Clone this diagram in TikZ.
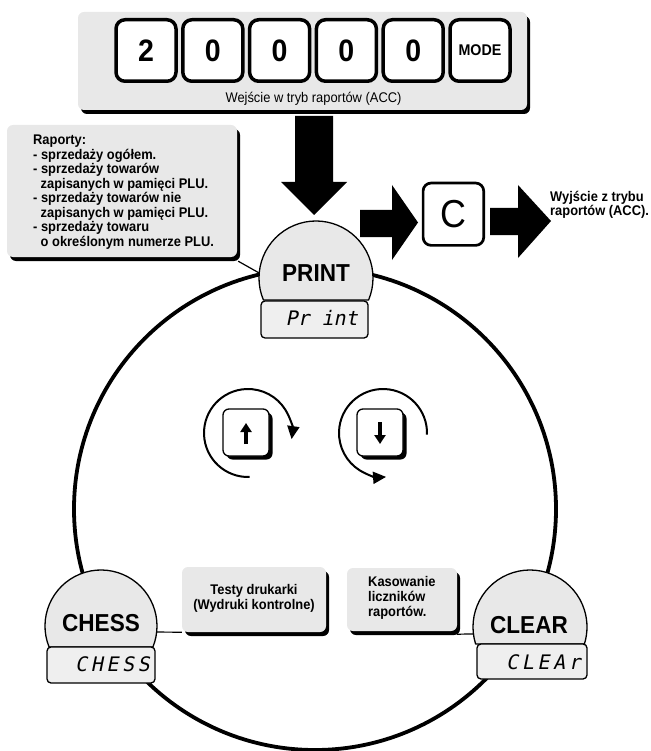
\documentclass[tikz,border=0pt]{standalone}
\usepackage{fontspec}
\setmainfont{Liberation Sans}[FakeStretch=0.92]
\newfontfamily\segfont{DejaVu Sans Mono}[FakeSlant=0.2]
\newfontfamily\segwide{DejaVu Sans Mono}[FakeSlant=0.2,LetterSpace=18]
\usetikzlibrary{arrows.meta,shadows,calc}
\definecolor{boxgray}{HTML}{E8E8E8}
\definecolor{domegray}{HTML}{E8E8E8}
\definecolor{dispgray}{HTML}{EFEFEF}
\begin{document}
\begin{tikzpicture}[x=1pt,y=-1pt,line join=round,
  blackshadow/.style={drop shadow={shadow xshift=3pt,shadow yshift=-4pt,fill=black,opacity=1}},
  panelbox/.style={fill=boxgray,rounded corners=6pt,inner sep=0pt,blackshadow},
  topkey/.style={draw,line width=3.5pt,fill=white,rounded corners=9pt,minimum width=60pt,minimum height=61.5pt,inner sep=0pt,font=\fontsize{31}{31}\selectfont\bfseries},
  ckey/.style={draw,line width=2.7pt,fill=white,rounded corners=8pt,minimum width=60.6pt,minimum height=62.3pt,inner sep=0pt,font=\fontsize{39}{39}\selectfont},
  smallkey/.style={draw,line width=1.3pt,fill=white,rounded corners=6pt,minimum width=46pt,minimum height=47pt,inner sep=0pt,drop shadow={shadow xshift=3.5pt,shadow yshift=-3.5pt,fill=black,opacity=1}},
  display/.style={draw,line width=1.3pt,fill=dispgray,rounded corners=4pt,inner sep=0pt},
  dome/.style={draw,line width=1.3pt,fill=domegray},
  bigarrow/.style={fill=black},
  connector/.style={line width=1.2pt},
  ring/.style={line width=3.8pt},
  rotarrow/.style={line width=2pt,-{Triangle[length=13pt,width=12pt]}},
  keyarrow/.style={line width=3.2pt,-{Triangle[length=9pt,width=11pt]}},
  boxtext/.style={font=\fontsize{14}{14.5}\selectfont\bfseries,inner sep=0pt},
  domelabel/.style={font=\fontsize{24.5}{26}\selectfont\bfseries,inner sep=0pt},
  segtext/.style={font=\fontsize{20}{20}\segfont,inner sep=0pt},
  segtextw/.style={font=\fontsize{20}{20}\segwide,inner sep=0pt}
]
\useasboundingbox (0,0) rectangle (650,751);

% big ring
\draw[ring] (315,509) circle[radius=241];

% top panel with keys
\node[panelbox,minimum width=449pt,minimum height=98pt] (panel) at (302.5,61) {};
\foreach \i/\t in {0/2,1/0,2/0,3/0,4/0}
  \node[topkey] (k\i) at ({146+66.8*\i},50.5) {\t};
\node[topkey,font=\fontsize{15.5}{15.5}\selectfont\bfseries] (kmode) at (480,50.5) {MODE};
\node[font=\fontsize{14}{15}\selectfont,inner sep=0pt] (acc) at (313.5,99) {Wejście w tryb raportów (ACC)};

% down arrow
\fill[bigarrow] (295,116) -- (333,116) -- (333,182) -- (347,182) -- (314,215) -- (281,182) -- (295,182) -- cycle;

% exit path
\fill[bigarrow] (360,210) -- (392,210) -- (392,185) -- (418,222.5) -- (392,260) -- (392,237) -- (360,237) -- cycle;
\node[ckey] (ckey) at (453.4,214.2) {C};
\fill[bigarrow] (490,208) -- (518,208) -- (518,185) -- (551,221) -- (518,258) -- (518,235) -- (490,235) -- cycle;
\node[boxtext,anchor=west,align=left,font=\fontsize{14}{14.3}\selectfont\bfseries] (exit) at (550,205) {Wyjście z trybu\\raportów (ACC).};

% left report box
\node[panelbox,minimum width=230pt,minimum height=132pt] (lbox) at (122,191) {};
\node[boxtext,anchor=west,align=left] (ltext) at (33,192) {Raporty:\\
- sprzedaży ogółem.\\
- sprzedaży towarów\\
\hspace*{7.5pt}zapisanych w pamięci PLU.\\
- sprzedaży towarów nie\\
\hspace*{7.5pt}zapisanych w pamięci PLU.\\
- sprzedaży towaru\\
\hspace*{7.5pt}o określonym numerze PLU.};

% PRINT
\coordinate (printc) at (316,278);
\draw[connector] ($(lbox.south east)+(1,4)$) -- ($(printc)+(185:57)$);
\draw[dome] (printc) ++(157.3:57) arc[start angle=157.3,end angle=382.7,radius=57] -- cycle;
\node[domelabel] (printlbl) at (316,273) {PRINT};
\node[display,minimum width=107pt,minimum height=37pt] (printdisp) at (314.5,319.5) {};
\node[segtext,anchor=east] (printseg) at (358,318) {Pr int};

% rotation keys
\draw[rotarrow] (248,433) ++(88:44) arc[start angle=88,end angle=368,radius=44];
\node[smallkey] (upkey) at (246,432.5) {};
\draw[keyarrow] (246,444) -- (246,423);
\draw[rotarrow] (383,433) ++(2:44) arc[start angle=2,end angle=-274,radius=44];
\node[smallkey] (downkey) at (380,432.5) {};
\draw[keyarrow] (380,422) -- (380,444);

% CHESS
\node[panelbox,minimum width=144pt,minimum height=65pt] (testy) at (254,599.5) {};
\node[boxtext,align=center,font=\fontsize{14}{15}\selectfont\bfseries] (testytext) at (254,598) {Testy drukarki\\(Wydruki kontrolne)};
\coordinate (chessc) at (101,626);
\draw[connector] ($(chessc)+(6.2:56)$) -- (testy.south west);
\draw[dome] (chessc) ++(158:56) arc[start angle=158,end angle=382,radius=56] -- cycle;
\node[domelabel] (chesslbl) at (101,623) {CHESS};
\node[display,minimum width=108pt,minimum height=36pt] (chessdisp) at (101,665) {};
\node[segtextw,anchor=east] (chessseg) at (150,664) {CHESS};

% CLEAR
\node[panelbox,minimum width=110pt,minimum height=63pt] (kas) at (402,599.5) {};
\node[boxtext,anchor=west,align=left,font=\fontsize{14}{15}\selectfont\bfseries] (kastext) at (368,598) {Kasowanie\\liczników\\raportów.};
\coordinate (clearc) at (530,627);
\draw[connector] ($(kas.south east)+(0,3)$) -- ($(clearc)+(173:57)$);
\draw[dome] (clearc) ++(162.6:57) arc[start angle=162.6,end angle=377.4,radius=57] -- cycle;
\node[domelabel] (clearlbl) at (529,625) {CLEAR};
\node[display,minimum width=110pt,minimum height=35pt] (cleardisp) at (532,661.5) {};
\node[segtextw,anchor=east] (clearseg) at (581,662) {CLEAr};
\end{tikzpicture}
\end{document}
